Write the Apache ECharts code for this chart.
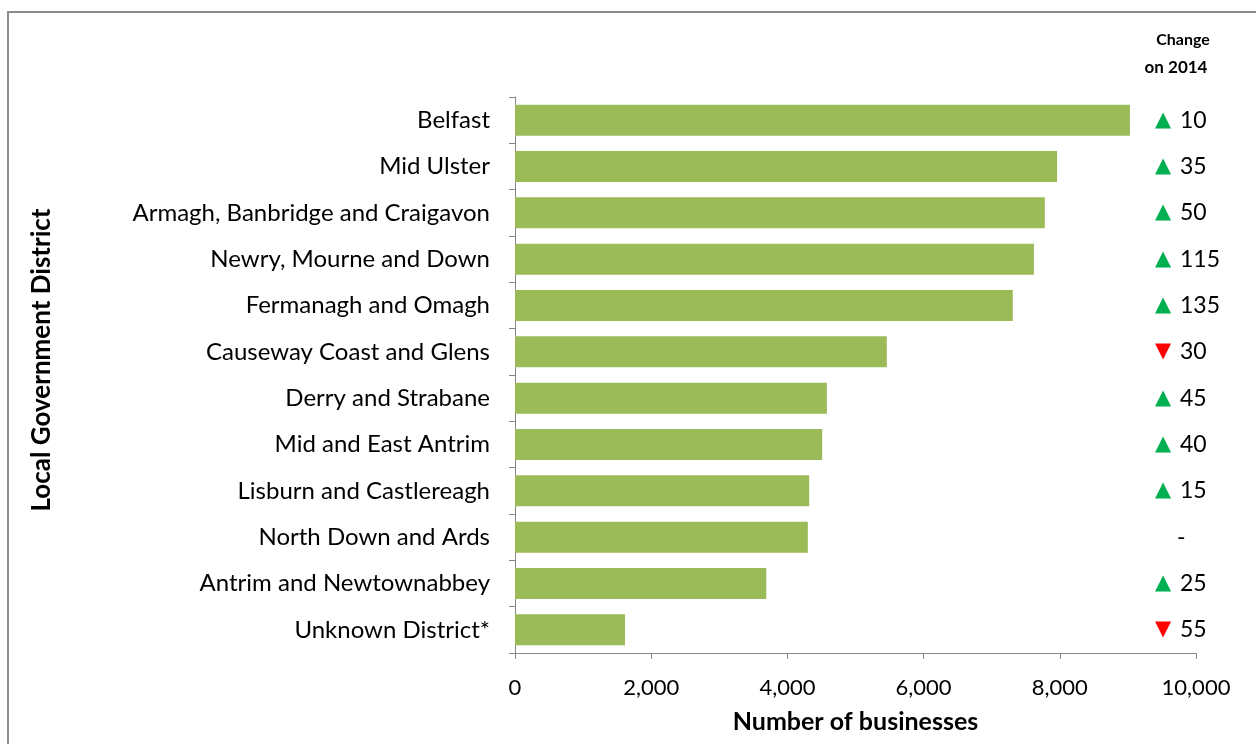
<!DOCTYPE html>
<html><head><meta charset="utf-8">
<script src="https://cdn.jsdelivr.net/npm/echarts@6/dist/echarts.min.js"></script>
<style>html,body{margin:0;padding:0;background:#fff}#c{width:1256px;height:744px}</style>
</head><body><div id="c"></div>
<script>
const districts = ['Belfast','Mid Ulster','Armagh, Banbridge and Craigavon','Newry, Mourne and Down','Fermanagh and Omagh','Causeway Coast and Glens','Derry and Strabane','Mid and East Antrim','Lisburn and Castlereagh','North Down and Ards','Antrim and Newtownabbey','Unknown District*'];
const businesses = [9030,7960,7780,7620,7310,5460,4580,4510,4320,4300,3690,1615];
const changeOn2014 = [10,35,50,115,135,-30,45,40,15,null,25,-55];
const xTicks = [0,2000,4000,6000,8000,10000];

const FONT = 'Lato';
const chart = echarts.init(document.getElementById('c'));
chart.setOption({
  backgroundColor:'#fff',
  animation:false,
  graphic:[
    {type:'rect',shape:{x:8,y:12,width:1400,height:900},style:{fill:'none',stroke:'#8c8c8c',lineWidth:2},silent:true},
    {type:'text',x:1183,y:40,style:{text:'Change',font:'bold 16px '+FONT,fill:'#000',align:'center',verticalAlign:'middle'}},
    {type:'text',x:1176,y:68,style:{text:'on 2014',font:'bold 17px '+FONT,fill:'#000',align:'center',verticalAlign:'middle'}}
  ],
  grid:{left:515,right:60,top:97,bottom:91,containLabel:false},
  xAxis:{
    type:'value',min:0,max:10000,interval:2000,
    name:'Number of businesses',nameLocation:'middle',nameGap:56,
    nameTextStyle:{fontFamily:FONT,fontWeight:'bold',fontSize:25,color:'#000'},
    axisLine:{show:true,lineStyle:{color:'#868686',width:1}},
    axisTick:{show:true,length:6,lineStyle:{color:'#868686'}},
    splitLine:{show:false},
    axisLabel:{fontFamily:FONT,fontSize:22,color:'#000',margin:24,
      formatter:v=>xTicks.indexOf(v)>=0?v.toLocaleString('en-US'):''}
  },
  yAxis:[{
    type:'category',data:districts,inverse:true,
    name:'Local Government District',nameLocation:'middle',nameGap:460,nameRotate:90,
    nameTextStyle:{fontFamily:FONT,fontWeight:'bold',fontSize:26,color:'#000',padding:[0,0,0,30]},
    axisLine:{show:true,lineStyle:{color:'#868686',width:1}},
    axisTick:{show:true,length:6,lineStyle:{color:'#868686'}},
    axisLabel:{fontFamily:FONT,fontSize:24,color:'#000',margin:25}
  },{
    type:'category',data:districts,inverse:true,position:'right',offset:-41,
    axisLine:{show:false},axisTick:{show:false},
    axisLabel:{margin:0,align:'left',
      formatter:(v,i)=>{
        const c=changeOn2014[i];
        if(c===null) return '{blank|}{num|-}';
        return (c>0?'{up|▲}':'{down|▼}')+'{num|'+Math.abs(c)+'}';
      },
      rich:{
        up:{color:'#00b050',fontFamily:'DejaVu Sans',fontSize:21,width:25},
        down:{color:'#ff0000',fontFamily:'DejaVu Sans',fontSize:21,width:25},
        blank:{width:22},
        num:{color:'#000',fontFamily:FONT,fontSize:23}
      }
    }
  }],
  series:[{
    type:'bar',data:businesses,barCategoryGap:'33%',
    itemStyle:{color:'#9bbb59'}
  }]
});
</script></body></html>
